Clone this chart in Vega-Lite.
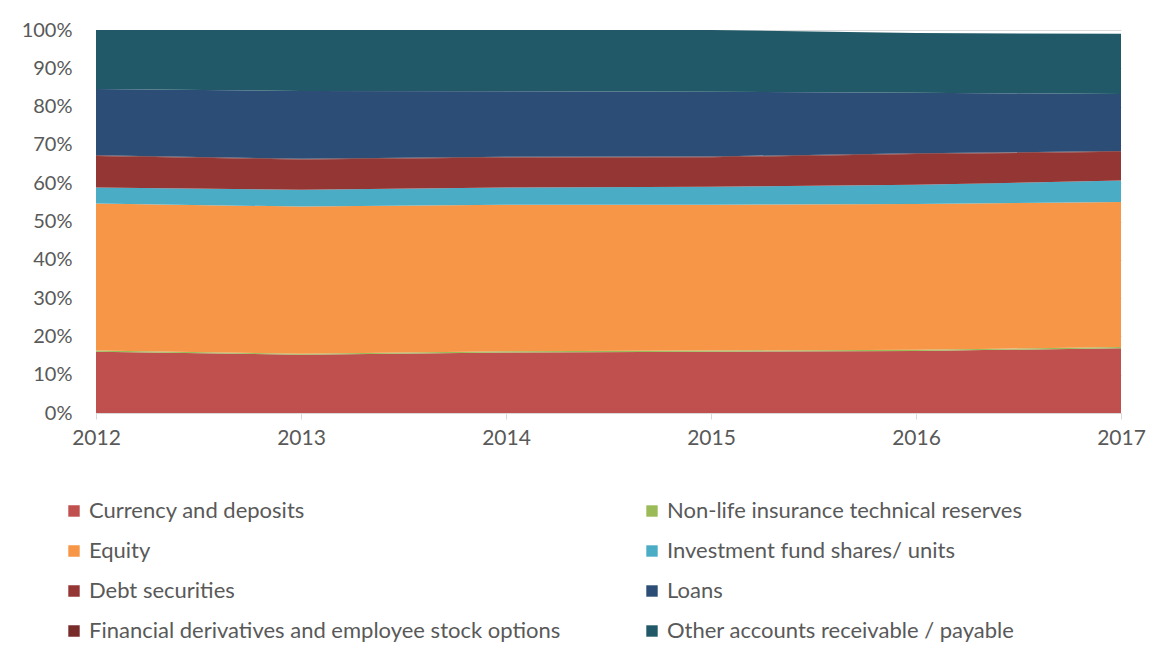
{
  "$schema": "https://vega.github.io/schema/vega-lite/v6.json",
  "width": 1025,
  "height": 383,
  "autosize": "none",
  "padding": {"left": 96, "top": 30, "right": 55, "bottom": 255},
  "background": "white",
  "data": {
    "values": [
      {"year": "2012", "series": "Currency and deposits", "ord": 1, "value": 16.0},
      {"year": "2013", "series": "Currency and deposits", "ord": 1, "value": 15.2},
      {"year": "2014", "series": "Currency and deposits", "ord": 1, "value": 15.8},
      {"year": "2015", "series": "Currency and deposits", "ord": 1, "value": 16.0},
      {"year": "2016", "series": "Currency and deposits", "ord": 1, "value": 16.2},
      {"year": "2017", "series": "Currency and deposits", "ord": 1, "value": 16.9},
      {"year": "2012", "series": "Non-life insurance technical reserves", "ord": 2, "value": 0.3},
      {"year": "2013", "series": "Non-life insurance technical reserves", "ord": 2, "value": 0.3},
      {"year": "2014", "series": "Non-life insurance technical reserves", "ord": 2, "value": 0.3},
      {"year": "2015", "series": "Non-life insurance technical reserves", "ord": 2, "value": 0.3},
      {"year": "2016", "series": "Non-life insurance technical reserves", "ord": 2, "value": 0.3},
      {"year": "2017", "series": "Non-life insurance technical reserves", "ord": 2, "value": 0.3},
      {"year": "2012", "series": "Equity", "ord": 3, "value": 38.4},
      {"year": "2013", "series": "Equity", "ord": 3, "value": 38.4},
      {"year": "2014", "series": "Equity", "ord": 3, "value": 38.3},
      {"year": "2015", "series": "Equity", "ord": 3, "value": 38.1},
      {"year": "2016", "series": "Equity", "ord": 3, "value": 38.1},
      {"year": "2017", "series": "Equity", "ord": 3, "value": 37.9},
      {"year": "2012", "series": "Investment fund shares/ units", "ord": 4, "value": 4.2},
      {"year": "2013", "series": "Investment fund shares/ units", "ord": 4, "value": 4.4},
      {"year": "2014", "series": "Investment fund shares/ units", "ord": 4, "value": 4.5},
      {"year": "2015", "series": "Investment fund shares/ units", "ord": 4, "value": 4.7},
      {"year": "2016", "series": "Investment fund shares/ units", "ord": 4, "value": 5.0},
      {"year": "2017", "series": "Investment fund shares/ units", "ord": 4, "value": 5.6},
      {"year": "2012", "series": "Debt securities", "ord": 5, "value": 8.2},
      {"year": "2013", "series": "Debt securities", "ord": 5, "value": 7.9},
      {"year": "2014", "series": "Debt securities", "ord": 5, "value": 7.8},
      {"year": "2015", "series": "Debt securities", "ord": 5, "value": 7.7},
      {"year": "2016", "series": "Debt securities", "ord": 5, "value": 8.0},
      {"year": "2017", "series": "Debt securities", "ord": 5, "value": 7.5},
      {"year": "2012", "series": "Financial derivatives and employee stock options", "ord": 6, "value": 0.2},
      {"year": "2013", "series": "Financial derivatives and employee stock options", "ord": 6, "value": 0.2},
      {"year": "2014", "series": "Financial derivatives and employee stock options", "ord": 6, "value": 0.2},
      {"year": "2015", "series": "Financial derivatives and employee stock options", "ord": 6, "value": 0.2},
      {"year": "2016", "series": "Financial derivatives and employee stock options", "ord": 6, "value": 0.2},
      {"year": "2017", "series": "Financial derivatives and employee stock options", "ord": 6, "value": 0.2},
      {"year": "2012", "series": "Loans", "ord": 7, "value": 17.3},
      {"year": "2013", "series": "Loans", "ord": 7, "value": 17.7},
      {"year": "2014", "series": "Loans", "ord": 7, "value": 17.1},
      {"year": "2015", "series": "Loans", "ord": 7, "value": 16.9},
      {"year": "2016", "series": "Loans", "ord": 7, "value": 15.8},
      {"year": "2017", "series": "Loans", "ord": 7, "value": 14.9},
      {"year": "2012", "series": "Other accounts receivable / payable", "ord": 8, "value": 15.4},
      {"year": "2013", "series": "Other accounts receivable / payable", "ord": 8, "value": 15.9},
      {"year": "2014", "series": "Other accounts receivable / payable", "ord": 8, "value": 16.0},
      {"year": "2015", "series": "Other accounts receivable / payable", "ord": 8, "value": 16.1},
      {"year": "2016", "series": "Other accounts receivable / payable", "ord": 8, "value": 15.6},
      {"year": "2017", "series": "Other accounts receivable / payable", "ord": 8, "value": 15.7}
    ]
  },
  "mark": {"type": "area", "opacity": 1},
  "encoding": {
    "x": {
      "field": "year",
      "type": "ordinal",
      "scale": {"type": "point", "padding": 0},
      "axis": {
        "title": null,
        "labelAngle": 0,
        "labelFont": "Lato",
        "labelFontSize": 21,
        "labelColor": "#595959",
        "labelPadding": 8,
        "domainColor": "#D9D9D9",
        "tickColor": "#D9D9D9",
        "tickSize": 6,
        "grid": false
      }
    },
    "y": {
      "field": "value",
      "type": "quantitative",
      "stack": "zero",
      "scale": {"domain": [0, 100], "nice": false},
      "axis": {
        "title": null,
        "values": [0, 10, 20, 30, 40, 50, 60, 70, 80, 90, 100],
        "labelExpr": "datum.value + '%'",
        "labelFont": "Lato",
        "labelFontSize": 20,
        "labelColor": "#595959",
        "labelPadding": 24,
        "domain": false,
        "ticks": false,
        "grid": true,
        "gridColor": "#D9D9D9"
      }
    },
    "order": {"field": "ord", "type": "quantitative"},
    "color": {
      "field": "series",
      "type": "nominal",
      "scale": {
        "domain": [
          "Currency and deposits",
          "Equity",
          "Debt securities",
          "Financial derivatives and employee stock options",
          "Non-life insurance technical reserves",
          "Investment fund shares/ units",
          "Loans",
          "Other accounts receivable / payable"
        ],
        "range": ["#C0504D", "#F79646", "#943634", "#772C2A", "#9BBB59", "#4BACC6", "#2C4D75", "#215968"]
      },
      "legend": {
        "title": null,
        "orient": "none",
        "legendX": -33,
        "legendY": 470,
        "columns": 2,
        "columnPadding": 80,
        "rowPadding": 18,
        "symbolType": "square",
        "symbolSize": 130,
        "symbolStrokeWidth": 0,
        "symbolOpacity": 1,
        "labelFont": "Lato",
        "labelFontSize": 22,
        "labelColor": "#595959",
        "labelLimit": 600,
        "labelOffset": 4,
        "clipHeight": 22
      }
    }
  },
  "config": {
    "view": {"stroke": null}
  }
}
